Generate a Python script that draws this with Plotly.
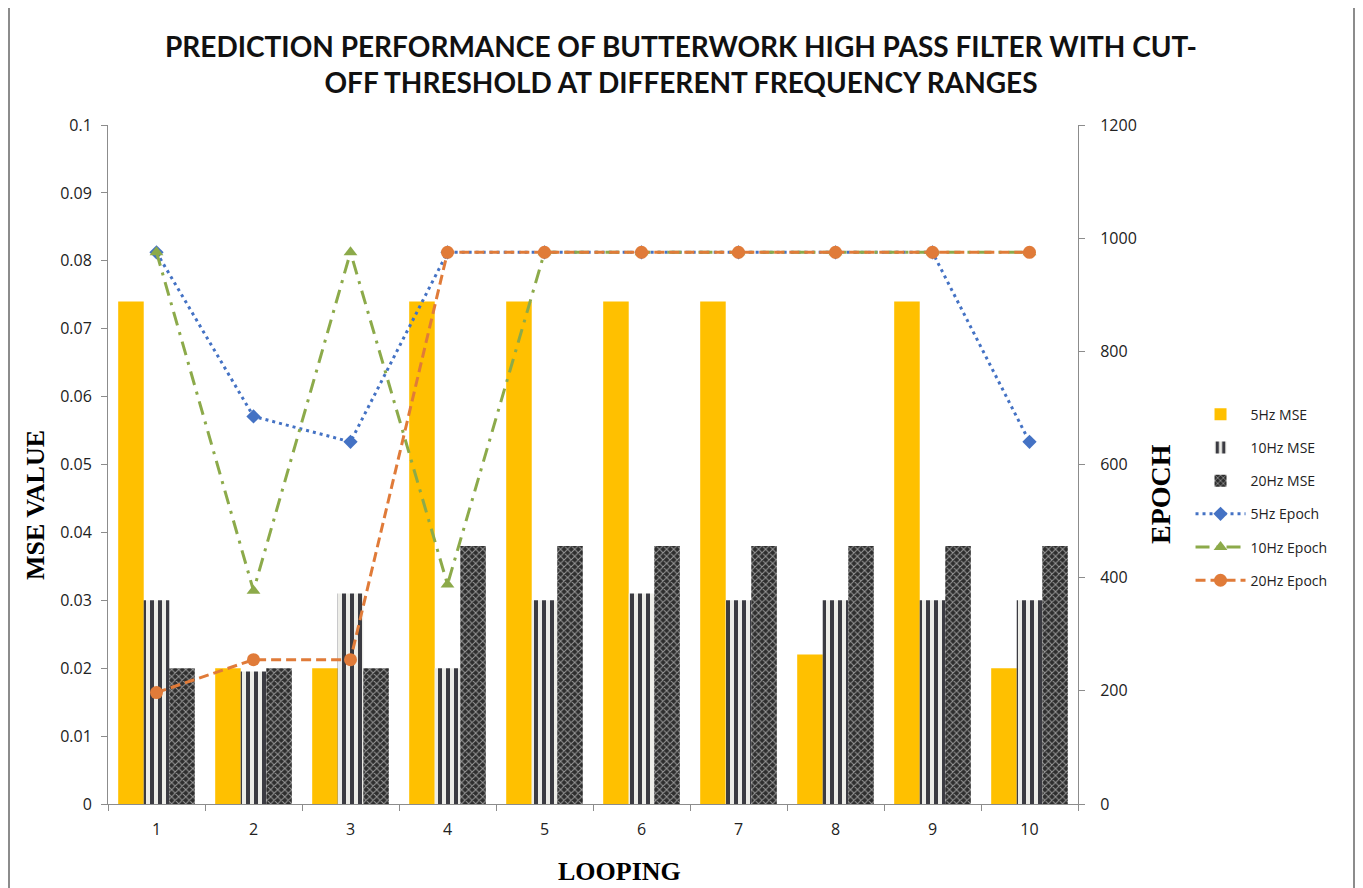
import plotly.graph_objects as go

looping = [1, 2, 3, 4, 5, 6, 7, 8, 9, 10]
mse_5hz = [0.074, 0.020, 0.020, 0.074, 0.074, 0.074, 0.074, 0.022, 0.074, 0.020]
mse_10hz = [0.030, 0.0195, 0.031, 0.020, 0.030, 0.031, 0.030, 0.030, 0.030, 0.030]
mse_20hz = [0.020, 0.020, 0.020, 0.038, 0.038, 0.038, 0.038, 0.038, 0.038, 0.038]
epoch_5hz = [975, 685, 640, 975, 975, 975, 975, 975, 975, 640]
epoch_10hz = [975, 377, 975, 388, 975, 975, 975, 975, 975, 975]
epoch_20hz = [197, 255, 255, 975, 975, 975, 975, 975, 975, 975]

x_labels = [str(v) for v in looping]

fig = go.Figure()
fig.add_trace(go.Bar(x=x_labels, y=mse_5hz, name="5Hz MSE", marker_color="#FFC000",
                     marker_line_width=0, legendgroup="a"))
fig.add_trace(go.Bar(x=x_labels, y=mse_10hz, name="10Hz MSE", marker_color="#EDEDE8",
                     marker_line_width=0, legendgroup="b",
                     marker_pattern=dict(shape="|", fgcolor="#3B3B42", bgcolor="#EDEDE8",
                                         size=8, solidity=0.5, fillmode="replace")))
fig.add_trace(go.Bar(x=x_labels, y=mse_20hz, name="20Hz MSE", marker_color="#2E2E2E",
                     marker_line_width=0, legendgroup="c",
                     marker_pattern=dict(shape="x", fgcolor="#9A9A9A", bgcolor="#2E2E2E",
                                         size=5, solidity=0.35, fillmode="replace")))
fig.add_trace(go.Scatter(x=x_labels, y=epoch_5hz, name="5Hz Epoch", yaxis="y2", mode="lines+markers",
                         line=dict(color="#4472C4", width=3, dash="3px,4px"),
                         marker=dict(symbol="diamond", size=11, color="#4472C4"), legendgroup="d"))
fig.add_trace(go.Scatter(x=x_labels, y=epoch_10hz, name="10Hz Epoch", yaxis="y2", mode="lines+markers",
                         line=dict(color="#8CAA4A", width=3, dash="14px,7px,3px,7px"),
                         marker=dict(symbol="triangle-up", size=12, color="#8CAA4A"), legendgroup="e"))
fig.add_trace(go.Scatter(x=x_labels, y=epoch_20hz, name="20Hz Epoch", yaxis="y2", mode="lines+markers",
                         line=dict(color="#E07B39", width=3, dash="10px,5px"),
                         marker=dict(symbol="circle", size=13, color="#E07B39"), legendgroup="f"))

tickfont = dict(family="Open Sans, Liberation Sans, sans-serif", size=16, color="#222222")

fig.update_layout(
    width=1355, height=880,
    margin=dict(l=100, r=285, t=117, b=84),
    paper_bgcolor="white", plot_bgcolor="white",
    barmode="group", bargap=0.21, bargroupgap=0,
    showlegend=True,
    legend=dict(x=1.116, y=0.597, xanchor="left", yanchor="top",
                font=dict(family="Open Sans, Liberation Sans, sans-serif", size=14, color="#222222"),
                tracegroupgap=12, itemwidth=50, bgcolor="rgba(0,0,0,0)"),
    xaxis=dict(type="category", range=[-0.5, 9.5], showline=True, linecolor="#8C8C8C", linewidth=1,
               ticks="outside", ticklen=6, tickcolor="#8C8C8C", tickfont=tickfont,
               showgrid=False, tickson="boundaries", zeroline=False, ticklabelstandoff=11),
    yaxis=dict(range=[0, 0.1], dtick=0.01, showline=True, linecolor="#8C8C8C", linewidth=1,
               ticks="outside", ticklen=6, tickcolor="#8C8C8C", tickfont=tickfont,
               showgrid=False, zeroline=False, tickformat="~g", ticklabelstandoff=6),
    yaxis2=dict(range=[0, 1200], dtick=200, overlaying="y", side="right", showline=True,
                linecolor="#8C8C8C", linewidth=1, ticks="outside", ticklen=6, tickcolor="#8C8C8C",
                tickfont=tickfont, showgrid=False, zeroline=False, ticklabelstandoff=12),
)

fig.add_annotation(text="<b>PREDICTION PERFORMANCE OF BUTTERWORK HIGH PASS FILTER WITH CUT-<br>OFF THRESHOLD AT DIFFERENT FREQUENCY RANGES</b>",
                   xref="paper", yref="paper", x=(681 - 108) / 970, y=(804 - 64) / 679,
                   xanchor="center", yanchor="middle", showarrow=False,
                   font=dict(family="Lato, Open Sans, sans-serif", size=28, color="#111111"))
fig.add_annotation(text="<b>MSE VALUE</b>", xref="paper", yref="paper",
                   x=(35 - 108) / 970, y=(804 - 505) / 679, textangle=-90,
                   xanchor="center", yanchor="middle", showarrow=False,
                   font=dict(family="Liberation Serif, serif", size=26, color="#000000"))
fig.add_annotation(text="<b>EPOCH</b>", xref="paper", yref="paper",
                   x=(1160 - 108) / 970, y=(804 - 494) / 679, textangle=-90,
                   xanchor="center", yanchor="middle", showarrow=False,
                   font=dict(family="Liberation Serif, serif", size=28, color="#000000"))
fig.add_annotation(text="<b>LOOPING</b>", xref="paper", yref="paper",
                   x=(619 - 108) / 970, y=(804 - 871) / 679,
                   xanchor="center", yanchor="middle", showarrow=False,
                   font=dict(family="Liberation Serif, serif", size=26, color="#000000"))

# outer chart border (left and right edges)
for px in (9, 1354):
    fig.add_shape(type="line", xref="paper", yref="paper",
                  x0=(px - 108) / 970, x1=(px - 108) / 970,
                  y0=(804 - 0) / 679, y1=(804 - 888) / 679,
                  line=dict(color="#8C8C8C", width=2))

fig.write_html("out.html")
